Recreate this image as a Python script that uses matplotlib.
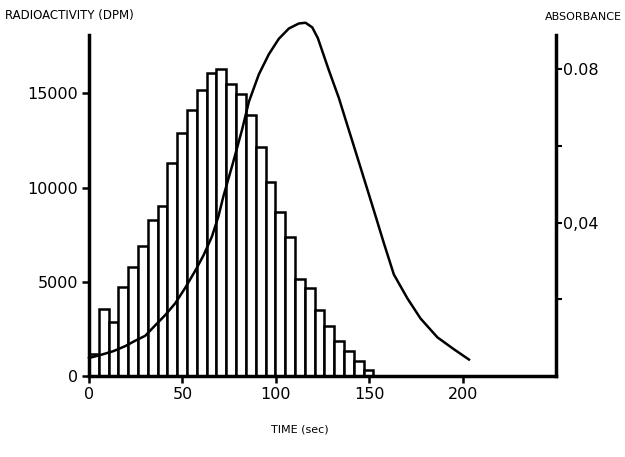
import numpy as np
import matplotlib.pyplot as plt

# histogram of radioactivity, one bar per fraction
bin_width = 5.25
counts = [1150, 3580, 2880, 4700, 5800, 6900, 8300, 9000, 11300, 12900,
          14100, 15200, 16100, 16300, 15500, 14950, 13850, 12180, 10300, 8700,
          7400, 5150, 4680, 3500, 2650, 1850, 1330, 800, 320]

# absorbance trace
t_abs = [0, 6.9, 13.1, 19.4, 24.7, 30.1, 35.4, 40.8, 46.2, 51.5, 56.9,
         61.3, 65.8, 69.3, 72, 77, 82, 85.6, 90.9, 96.3, 101.6, 107, 112.3,
         115.9, 119.5, 122.5, 128.4, 133.8, 137.3, 141.8, 147.1, 152.5, 157.9,
         163.2, 170.4, 177.5, 186.5, 195.3, 203.4]
absorb = [0.0047, 0.0056, 0.0065, 0.0078, 0.0092, 0.0105, 0.0132, 0.0159,
          0.019, 0.023, 0.0275, 0.0315, 0.0364, 0.0417, 0.047, 0.0555,
          0.0644, 0.0716, 0.0787, 0.084, 0.088, 0.0907, 0.092, 0.0922,
          0.091, 0.0882, 0.0798, 0.0725, 0.067, 0.060, 0.0517, 0.0432,
          0.0346, 0.0265, 0.0203, 0.015, 0.0101, 0.007, 0.0043]

left_ticks = [0, 5000, 10000, 15000]
left_labels = ['0', '5000', '10000', '15000']
x_ticks = [0, 50, 100, 150, 200]
right_ticks = [0.02, 0.04, 0.06, 0.08]
right_labels = ['', '0,04', '', '0.08']

fig = plt.figure(figsize=(6.25, 4.57), dpi=100)
ax = fig.add_axes([0.1424, 0.1772, 0.8896 - 0.1424, 0.9234 - 0.1772])

edges = np.arange(len(counts)) * bin_width
ax.bar(edges, counts, width=bin_width, align='edge', color='white',
       edgecolor='black', linewidth=1.8, zorder=2)

ax.set_xlim(0, 250)
ax.set_ylim(0, 18100)
ax.set_xticks(x_ticks)
ax.set_xticklabels([str(v) for v in x_ticks])
ax.set_yticks(left_ticks)
ax.set_yticklabels(left_labels)
ax.tick_params(axis='both', direction='out', length=5, width=1.8,
               labelsize=11.5, pad=3)
ax.spines['top'].set_visible(False)
ax.spines['right'].set_visible(False)
ax.spines['left'].set_linewidth(2.5)
ax.spines['bottom'].set_linewidth(2.5)

ax2 = ax.twinx()
ax2.plot(t_abs, absorb, color='black', lw=1.8, clip_on=False, zorder=3,
         solid_joinstyle='round')
ax2.set_ylim(0, 0.089)
ax2.set_yticks(right_ticks)
ax2.set_yticklabels(right_labels)
ax2.tick_params(axis='y', direction='out', length=4, width=1.5,
                labelsize=11.5, pad=1)
for s in ['top', 'left', 'bottom']:
    ax2.spines[s].set_visible(False)
ax2.spines['right'].set_linewidth(2.5)

fig.text(0.008, 0.965, 'RADIOACTIVITY (DPM)', fontsize=8.5, ha='left', va='center')
fig.text(0.995, 0.962, 'ABSORBANCE', fontsize=8, ha='right', va='center')
fig.text(0.48, 0.06, 'TIME (sec)', fontsize=8, ha='center', va='center')

fig.savefig('out.png', dpi=100)
